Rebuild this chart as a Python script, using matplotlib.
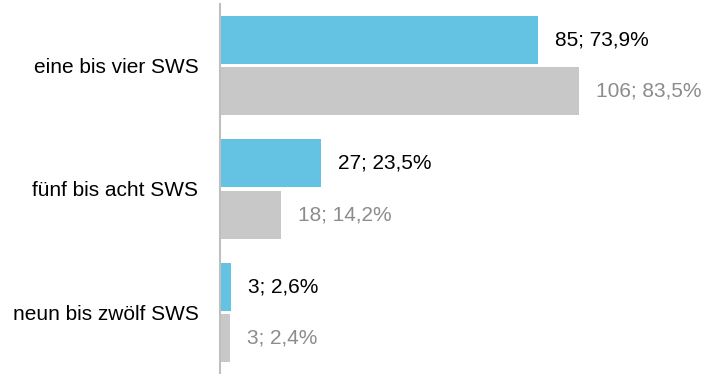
import numpy as np
import matplotlib.pyplot as plt

plt.rcParams['font.family'] = ['Liberation Sans', 'DejaVu Sans']

categories = ['eine bis vier SWS', 'fünf bis acht SWS', 'neun bis zwölf SWS']
blue_counts = [85, 27, 3]
blue_pct = [73.9, 23.5, 2.6]
gray_counts = [106, 18, 3]
gray_pct = [83.5, 14.2, 2.4]

blue = '#64C3E3'
gray = '#C8C8C8'


def fmt(n, p):
    return f"{n}; {p:.1f}%".replace('.', ',')


fig = plt.figure(figsize=(7.08, 3.74), dpi=100)
ax = fig.add_axes([220 / 708, 0.0, 1 - 220 / 708, 370 / 374])

y = np.arange(len(categories))
h = 48 / 123
gap = 3 / 123
ax.barh(y - h / 2 - gap / 2, blue_pct, height=h, color=blue)
ax.barh(y + h / 2 + gap / 2, gray_pct, height=h, color=gray)

off = 17 / 4.3
fs = 15
for i in range(len(categories)):
    ax.text(blue_pct[i] + off, y[i] - h / 2 - gap / 2, fmt(blue_counts[i], blue_pct[i]),
            va='center', ha='left', fontsize=fs, color='black')
    ax.text(gray_pct[i] + off, y[i] + h / 2 + gap / 2, fmt(gray_counts[i], gray_pct[i]),
            va='center', ha='left', fontsize=fs, color='#8C8C8C')

ax.set_xlim(0, (708 - 220) / 4.3)
ax.set_ylim(2.5, -0.5)
ax.set_yticks(y)
ax.set_yticklabels(categories, fontsize=fs)
ax.tick_params(axis='y', length=0, pad=15.5)
ax.set_xticks([])
for s in ['top', 'right', 'bottom']:
    ax.spines[s].set_visible(False)
ax.spines['left'].set_color('#BFBFBF')
ax.spines['left'].set_linewidth(1.5)

fig.savefig('out.png', dpi=100)
